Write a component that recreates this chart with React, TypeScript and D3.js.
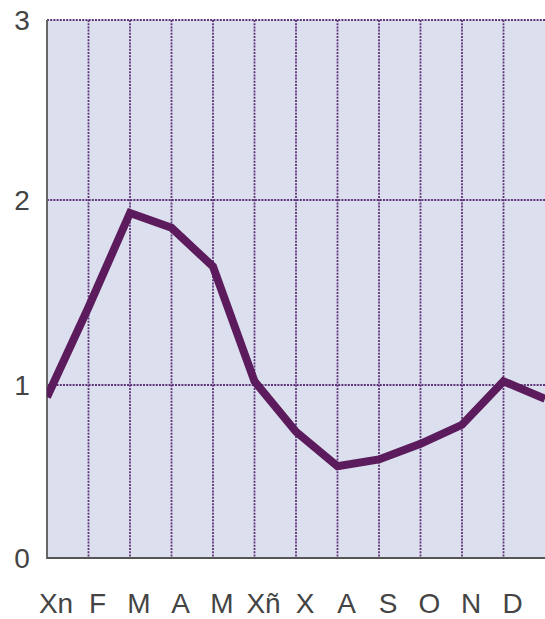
import React from "react";
import * as d3 from "d3";

const months = ["Xn", "F", "M", "A", "M", "Xñ", "X", "A", "S", "O", "N", "D"];
const values = [0.93, 1.42, 1.93, 1.85, 1.64, 1.02, 0.73, 0.53, 0.57, 0.66, 0.77, 1.02, 0.92];
const yTicks = [0, 1, 2, 3];

const W = 545;
const H = 619;

export default function App() {
  const x = d3.scaleLinear().domain([0, 12]).range([47, 545]);
  const y = d3.scaleLinear().domain([0, 1, 2, 3]).range([558, 385, 200, 20]);
  const line = d3
    .line<number>()
    .x((_, i) => x(i))
    .y((d) => y(d));
  const grid = "#5e3478";
  const font = "'Liberation Sans', Arial, sans-serif";
  return (
    <svg
      width={W}
      height={H}
      style={{ position: "absolute", left: 0, top: 0, background: "#fff" }}
    >
      <defs>
        <clipPath id="plot">
          <rect x={x(0)} y={y(3) - 2} width={x(12) - x(0)} height={y(0) - y(3) + 2} />
        </clipPath>
      </defs>
      <rect x={x(0)} y={y(3)} width={x(12) - x(0)} height={y(0) - y(3)} fill="#dcdfee" />
      {d3.range(1, 12).map((i) => (
        <line
          key={"v" + i}
          x1={x(i)}
          x2={x(i)}
          y1={y(3)}
          y2={y(0)}
          stroke={grid}
          strokeWidth={1.8}
          strokeDasharray="2 1.2"
        />
      ))}
      {yTicks.filter((t) => t > 0).map((t) => (
        <line
          key={"h" + t}
          x1={x(0)}
          x2={x(12)}
          y1={y(t)}
          y2={y(t)}
          stroke={grid}
          strokeWidth={1.8}
          strokeDasharray="2 1.2"
        />
      ))}
      <line x1={x(0)} x2={x(0)} y1={y(3)} y2={y(0) + 1} stroke="#666" strokeWidth={2} />
      <line x1={x(0)} x2={x(12)} y1={y(0)} y2={y(0)} stroke="#555" strokeWidth={2} />
      <path
        d={line(values) || ""}
        fill="none"
        stroke="#5b1b5c"
        strokeWidth={8}
        strokeLinejoin="miter"
        clipPath="url(#plot)"
      />
      {yTicks.map((t) => (
        <text
          key={"yl" + t}
          x={22}
          y={y(t)}
          dy="0.36em"
          textAnchor="middle"
          fontFamily={font}
          fontSize={28}
          fill="#444"
        >
          {t}
        </text>
      ))}
      {months.map((m, i) => (
        <text
          key={"xl" + i}
          x={x(i) + 9}
          y={613}
          textAnchor="middle"
          fontFamily={font}
          fontSize={28}
          fill="#444"
        >
          {m}
        </text>
      ))}
    </svg>
  );
}
